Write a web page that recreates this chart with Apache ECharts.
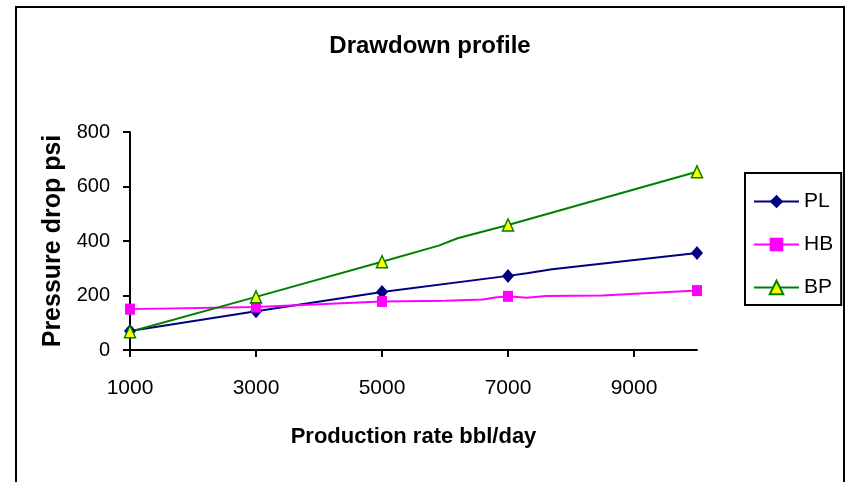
<!DOCTYPE html>
<html>
<head>
<meta charset="utf-8">
<script src="https://cdn.jsdelivr.net/npm/echarts@6/dist/echarts.min.js"></script>
<style>
html,body{margin:0;padding:0;background:#fff;}
#chart{width:846px;height:482px;}
</style>
</head>
<body>
<div id="chart"></div>
<script>
// ---- data ----
var chartTitle = 'Drawdown profile';
var xAxisTitle = 'Production rate bbl/day';
var yAxisTitle = 'Pressure drop psi';
var seriesNames = ['PL', 'HB', 'BP'];
var markerRates = [1000, 3000, 5000, 7000, 10000];
var xTickValues = [1000, 3000, 5000, 7000, 9000];

var plRates = [1000, 3000, 5000, 7000, 7300, 7700, 10000];
var plDrop  = [70, 142, 213, 272, 282, 296, 356];

var hbRates = [1000, 3000, 5000, 6000, 6600, 6800, 7000, 7300, 7600, 8500, 10000];
var hbDrop  = [150, 158, 178, 181, 185, 193, 197, 192, 198, 200, 218];

var bpRates = [1000, 3000, 5000, 5900, 6200, 7000, 10000];
var bpDrop  = [67, 195, 324, 383, 410, 459, 654];

// ---- build ----
var FONT = "'Liberation Sans',Arial,sans-serif";

function build(xs, ys) {
  return xs.map(function (x, i) {
    var item = { value: [x, ys[i]] };
    if (markerRates.indexOf(x) < 0) item.symbol = 'none';
    return item;
  });
}

var chart = echarts.init(document.getElementById('chart'), null, { renderer: 'canvas' });
var option = {
  animation: false,
  backgroundColor: '#fff',
  graphic: [
    { type: 'rect', shape: { x: 16, y: 7, width: 828, height: 520 },
      style: { fill: 'none', stroke: '#000', lineWidth: 2 }, silent: true, z: 0 },
    { type: 'text', x: 430, y: 46,
      style: { text: chartTitle, font: "bold 24px " + FONT, fill: '#000', align: 'center', verticalAlign: 'middle' } }
  ],
  grid: { left: 130, right: 149, top: 132, bottom: 132, containLabel: false },
  legend: {
    orient: 'vertical',
    left: 745, top: 173,
    padding: [18, 8, 7, 8],
    itemGap: 22,
    itemWidth: 45,
    itemHeight: 17,
    borderColor: '#000',
    borderWidth: 2,
    borderRadius: 0,
    backgroundColor: '#fff',
    textStyle: { fontFamily: FONT, fontSize: 21, color: '#000' },
    data: seriesNames
  },
  xAxis: {
    type: 'value', min: 1000, max: 10000, interval: 2000,
    name: xAxisTitle, nameLocation: 'middle', nameGap: 76,
    nameTextStyle: { fontFamily: FONT, fontWeight: 'bold', fontSize: 22, color: '#000' },
    axisLine: { show: true, lineStyle: { color: '#000', width: 2 } },
    axisTick: { show: true, length: 7, inside: false, customValues: xTickValues, lineStyle: { color: '#000', width: 2 } },
    axisLabel: { customValues: xTickValues, margin: 28, fontFamily: FONT, fontSize: 21, color: '#000',
      formatter: function (v) { return String(v); } },
    splitLine: { show: false }
  },
  yAxis: {
    type: 'value', min: 0, max: 800, interval: 200,
    name: yAxisTitle, nameLocation: 'middle', nameGap: 62, nameRotate: 90,
    nameTextStyle: { fontFamily: FONT, fontWeight: 'bold', fontSize: 25, color: '#000' },
    axisLine: { show: true, lineStyle: { color: '#000', width: 2 } },
    axisTick: { show: true, length: 7, inside: false, lineStyle: { color: '#000', width: 2 } },
    axisLabel: { margin: 20, fontFamily: FONT, fontSize: 20, color: '#000',
      formatter: function (v) { return String(v); } },
    splitLine: { show: false }
  },
  series: [
    { name: 'PL', type: 'line', data: build(plRates, plDrop),
      symbol: 'diamond', symbolSize: [12, 14],
      lineStyle: { color: '#000080', width: 2 },
      itemStyle: { color: '#000080', borderColor: '#000080', borderWidth: 0 } },
    { name: 'HB', type: 'line', data: build(hbRates, hbDrop),
      symbol: 'rect', symbolSize: [10, 11],
      lineStyle: { color: '#FF00FF', width: 2 },
      itemStyle: { color: '#FF00FF', borderColor: '#FF00FF', borderWidth: 0 } },
    { name: 'BP', type: 'line', data: build(bpRates, bpDrop),
      symbol: 'triangle', symbolSize: [11, 12],
      lineStyle: { color: '#008000', width: 2 },
      itemStyle: { color: '#FFFF00', borderColor: '#008000', borderWidth: 1.5 } }
  ]
};
chart.setOption(option);
</script>
</body>
</html>
